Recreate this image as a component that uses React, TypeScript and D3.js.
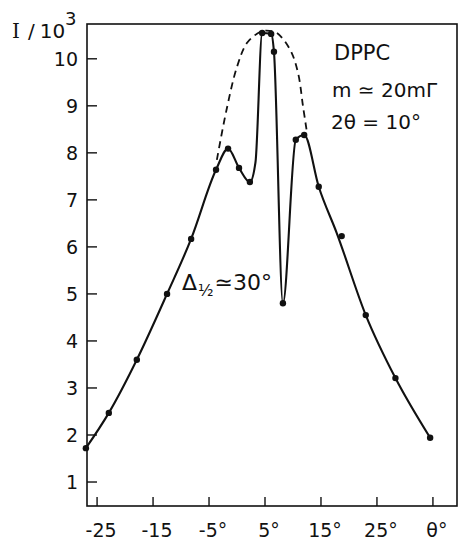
import * as d3 from "d3";

// angle θ (deg) and intensity I/10^3
const dotTheta = [-27, -22.9, -17.9, -12.5, -8.2, -3.75, -1.6, 0.36, 2.3, 4.5, 6.1, 6.6, 8.2, 10.5, 12, 14.6, 18.7, 23, 28.3, 34.5];
const dotI = [1.72, 2.47, 3.6, 5.0, 6.17, 7.64, 8.09, 7.68, 7.38, 10.55, 10.53, 10.15, 4.8, 8.28, 8.38, 7.28, 6.23, 4.55, 3.21, 1.94];

// solid drawn curve
const lineTheta = [-27, -22.9, -17.9, -12.5, -8.2, -3.75, -1.6, 0.36, 2.3, 3.3, 4.5, 6.1, 6.6, 8.2, 10.5, 12, 14.6, 17.8, 23, 28.3, 34.5];
const lineI = [1.72, 2.47, 3.6, 5.0, 6.17, 7.64, 8.09, 7.68, 7.38, 7.8, 10.55, 10.53, 10.15, 4.8, 8.28, 8.38, 7.28, 6.3, 4.55, 3.21, 1.94];

// dashed envelope
const dashTheta = [-3.6, -1.9, 0, 1.8, 4.1, 5.2, 7.1, 9.5, 10.9, 11.8, 12.5];
const dashI = [7.85, 8.9, 9.83, 10.34, 10.57, 10.6, 10.55, 10.19, 9.7, 8.98, 8.43];

const xTicks = [-25, -15, -5, 5, 15, 25, 35];
const xTickLabels = ["-25", "-15", "-5°", "5°", "15°", "25°", "θ°"];
const yTicks = [1, 2, 3, 4, 5, 6, 7, 8, 9, 10];

export default function App() {
  const width = 463;
  const height = 547;
  const frame = { left: 87, right: 457, top: 24, bottom: 506 };

  const x = d3.scaleLinear().domain([-26.8, 39.3]).range([frame.left, frame.right]);
  const y = d3.scaleLinear().domain([0.49, 10.74]).range([frame.bottom, frame.top]);

  const solid = d3
    .line<number>()
    .x((d, i) => x(lineTheta[i]))
    .y((d) => y(d))
    .curve(d3.curveMonotoneX);

  const dashed = d3
    .line<number>()
    .x((d, i) => x(dashTheta[i]))
    .y((d) => y(d))
    .curve(d3.curveCatmullRom.alpha(0.5));

  const font = "DejaVu Sans, sans-serif";

  return (
    <svg
      width={width}
      height={height}
      style={{ position: "absolute", left: 0, top: 0, background: "#fff" }}
      fontFamily={font}
    >
      <rect
        x={frame.left}
        y={frame.top}
        width={frame.right - frame.left}
        height={frame.bottom - frame.top}
        fill="none"
        stroke="#111"
        strokeWidth={1.6}
      />

      {yTicks.map((t) => (
        <g key={t}>
          <line x1={frame.left} x2={frame.left + 10} y1={y(t)} y2={y(t)} stroke="#111" strokeWidth={1.4} />
          <text x={78} y={y(t)} dy="0.36em" textAnchor="end" fontSize={19} fill="#111">
            {t}
          </text>
        </g>
      ))}

      {xTicks.map((t, i) => (
        <g key={t}>
          <line x1={x(t)} x2={x(t)} y1={frame.bottom} y2={frame.bottom - 9} stroke="#111" strokeWidth={1.4} />
          <text x={x(t) + 4} y={537} textAnchor="middle" fontSize={19} fill="#111">
            {xTickLabels[i]}
          </text>
        </g>
      ))}

      <text x={12} y={38} fontSize={20} fill="#111">
        <tspan fontFamily="DejaVu Serif, serif">I</tspan>
        <tspan dx={8}>/</tspan>
        <tspan dx={5}>10</tspan>
        <tspan fontSize={18} dy={-13}>3</tspan>
      </text>

      <path d={dashed(dashI) ?? ""} fill="none" stroke="#111" strokeWidth={1.8} strokeDasharray="7,5" />
      <path d={solid(lineI) ?? ""} fill="none" stroke="#111" strokeWidth={2.1} strokeLinejoin="round" />

      {dotI.map((v, i) => (
        <circle key={i} cx={x(dotTheta[i])} cy={y(v)} r={3.2} fill="#111" />
      ))}

      <text x={334} y={60} fontSize={21} fill="#111">DPPC</text>
      <text x={332} y={97} fontSize={20} fill="#111">m ≃ 20mΓ</text>
      <text x={331} y={129} fontSize={20} fill="#111">2θ = 10°</text>

      <text x={182} y={290} fontSize={22} fill="#111">
        Δ
        <tspan fontSize={16} dy={6} dx={1}>½</tspan>
        <tspan dy={-6} dx={1}>≃30°</tspan>
      </text>
    </svg>
  );
}
